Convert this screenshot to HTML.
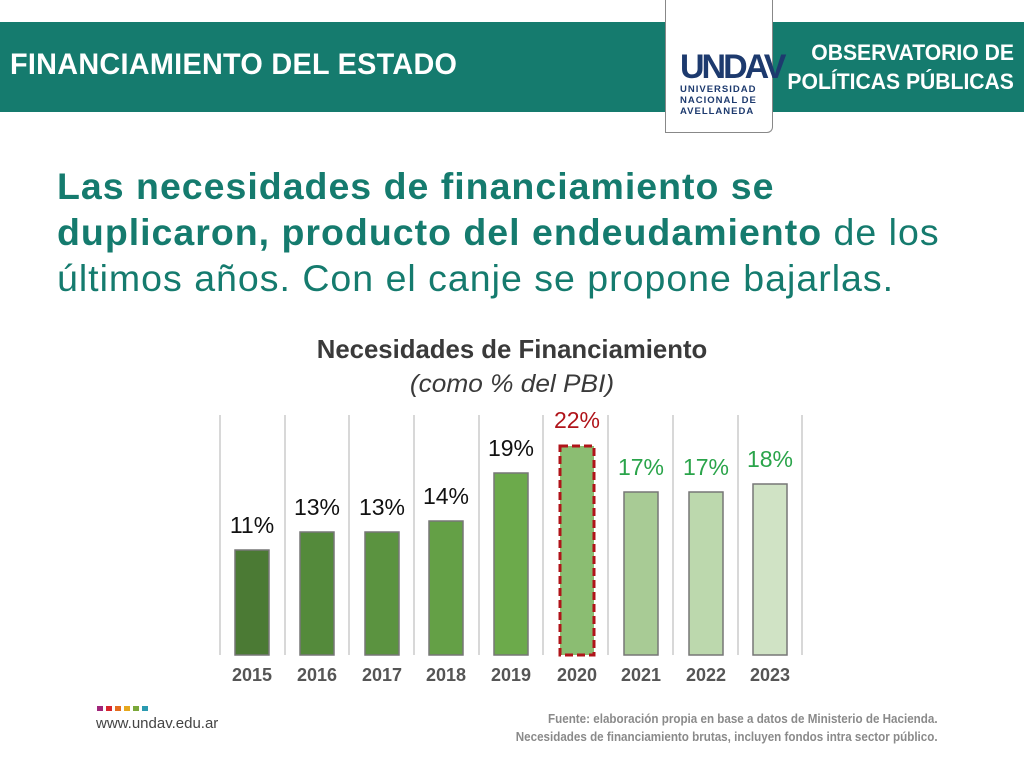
<!DOCTYPE html>
<html><head><meta charset="utf-8"><style>
html,body{margin:0;padding:0;width:1024px;height:768px;overflow:hidden;background:#fff;font-family:"Liberation Sans",sans-serif}
.band{position:absolute;left:0;top:22px;width:1024px;height:90px;background:#157b6e}
.h1{position:absolute;left:10px;top:48px;color:#fff;font-weight:bold;font-size:30px;transform:scaleX(0.96);transform-origin:left;letter-spacing:0.3px}
.obs{position:absolute;right:10px;top:38px;color:#fff;font-weight:bold;font-size:22px;line-height:29px;text-align:right;transform:scaleX(0.96);transform-origin:right}
.logo{position:absolute;left:665px;top:-2px;width:106px;height:134px;background:#fff;border:1px solid #888;border-top:none;border-radius:0 0 6px 0}
.logo .u{position:absolute;left:14px;top:50px;font-size:34px;font-weight:900;color:#1d3a6e;letter-spacing:-3px;font-family:"Liberation Sans",sans-serif}
.logo .t{position:absolute;left:14px;top:86px;font-size:9.5px;font-weight:bold;color:#1d3a6e;line-height:11px;letter-spacing:1px}
.head{position:absolute;left:57px;top:163px;color:#157b6e;font-size:37.5px;line-height:46px;width:980px;letter-spacing:1px;white-space:nowrap}
.head b{font-weight:bold}
.ct{position:absolute;left:0;width:1024px;text-align:center;color:#3a3a3a}
.foot{position:absolute;right:86px;top:710px;text-align:right;color:#8a8a8a;font-size:12.5px;font-weight:bold;line-height:18px;transform:scaleX(0.93);transform-origin:right}
</style></head><body>
<div class="band"></div>
<div class="h1">FINANCIAMIENTO DEL ESTADO</div>
<div class="obs">OBSERVATORIO DE<br>POLÍTICAS PÚBLICAS</div>
<div class="logo"><div class="u">UNDAV</div><div class="t">UNIVERSIDAD<br>NACIONAL DE<br>AVELLANEDA</div></div>
<div class="head"><b>Las necesidades de financiamiento se<br>duplicaron, producto del endeudamiento</b> de los<br>últimos años. Con el canje se propone bajarlas.</div>
<div class="ct" style="top:334px;font-size:26px;font-weight:bold;transform:scaleX(0.99);">Necesidades de Financiamiento</div>
<div class="ct" style="top:370px;font-size:25px;font-style:italic;transform:scaleX(1.05)">(como % del PBI)</div>
<svg style="position:absolute;left:0;top:0" width="1024" height="768">
<g stroke="#d8d8d8" stroke-width="2">
<line x1="220" y1="415" x2="220" y2="655"/><line x1="285" y1="415" x2="285" y2="655"/><line x1="349" y1="415" x2="349" y2="655"/><line x1="414" y1="415" x2="414" y2="655"/><line x1="479" y1="415" x2="479" y2="655"/><line x1="543" y1="415" x2="543" y2="655"/><line x1="608" y1="415" x2="608" y2="655"/><line x1="673" y1="415" x2="673" y2="655"/><line x1="738" y1="415" x2="738" y2="655"/><line x1="802" y1="415" x2="802" y2="655"/>
</g>
<g stroke="#777" stroke-width="1.5">
<rect x="235" y="550" width="34" height="105" fill="#4b7a34"/>
<rect x="300" y="532" width="34" height="123" fill="#548a3b"/>
<rect x="365" y="532" width="34" height="123" fill="#5b9340"/>
<rect x="429" y="521" width="34" height="134" fill="#64a046"/>
<rect x="494" y="473" width="34" height="182" fill="#6caa4b"/>
<rect x="624" y="492" width="34" height="163" fill="#a8cb95"/>
<rect x="689" y="492" width="34" height="163" fill="#bcd8ad"/>
<rect x="753" y="484" width="34" height="171" fill="#d0e3c5"/>
</g>
<rect x="560" y="446" width="34" height="209" fill="#8bbd72" stroke="#b0141a" stroke-width="3" stroke-dasharray="8,4"/>
<g font-family="Liberation Sans, sans-serif" font-size="23" text-anchor="middle" fill="#111">
<text x="252" y="533">11%</text><text x="317" y="515">13%</text><text x="382" y="515">13%</text><text x="446" y="504">14%</text><text x="511" y="456">19%</text>
<text x="577" y="428" fill="#b0141a">22%</text>
<text x="641" y="475" fill="#2aa44a">17%</text><text x="706" y="475" fill="#2aa44a">17%</text><text x="770" y="467" fill="#2aa44a">18%</text>
</g>
<g font-family="Liberation Sans, sans-serif" font-size="18" font-weight="bold" text-anchor="middle" fill="#555">
<text x="252" y="681">2015</text><text x="317" y="681">2016</text><text x="382" y="681">2017</text><text x="446" y="681">2018</text><text x="511" y="681">2019</text><text x="577" y="681">2020</text><text x="641" y="681">2021</text><text x="706" y="681">2022</text><text x="770" y="681">2023</text>
</g>
<rect x="97" y="706" width="6" height="5" fill="#a0257a"/><rect x="106" y="706" width="6" height="5" fill="#d8262e"/><rect x="115" y="706" width="6" height="5" fill="#e46c1e"/><rect x="124" y="706" width="6" height="5" fill="#e6a81e"/><rect x="133" y="706" width="6" height="5" fill="#7aa83a"/><rect x="142" y="706" width="6" height="5" fill="#2a9ab0"/>
<text x="96" y="728" font-family="Liberation Sans, sans-serif" font-size="15" fill="#444">www.undav.edu.ar</text>
</svg>
<div class="foot">Fuente: elaboración propia en base a datos de Ministerio de Hacienda.<br>Necesidades de financiamiento brutas, incluyen fondos intra sector público.</div>
</body></html>
